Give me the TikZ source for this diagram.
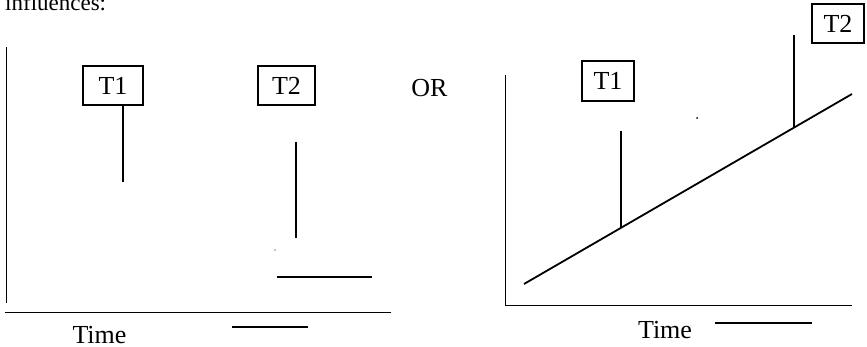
\documentclass[tikz,border=0pt]{standalone}
\usepackage{fontspec}
\setmainfont{Liberation Serif}
\begin{document}
\begin{tikzpicture}[x=1pt,y=-1pt,
  every node/.style={font=\fontsize{26}{30}\selectfont, inner sep=0pt},
  tbox/.style={draw, line width=1.1pt, minimum height=39pt},
  axis/.style={line width=0.9pt},
  stem/.style={line width=1.6pt},
  trend/.style={line width=1.8pt},
  mark line/.style={line width=1.4pt},
  speck/.style={fill=black, draw=none}]
\useasboundingbox (0,0) rectangle (867,347);
\clip (0,0) rectangle (867,347);

% heading, partly cut off by the top edge
\node[anchor=base west, font=\fontsize{23}{27}\selectfont] (head) at (5,10.5) {influences:};

% ---------- left panel ----------
\coordinate (LaxTop) at (6,47);
\coordinate (LaxBot) at (6,303);
\coordinate (LhA) at (5,312);
\coordinate (LhB) at (391,312);
\draw[axis] (LaxTop) -- (LaxBot);
\draw[axis] (LhA) -- (LhB);

\node[tbox, minimum width=60pt] (LT1) at (113,85.5) {T1};
\node[tbox, minimum width=57pt] (LT2) at (286.5,85.5) {T2};

\coordinate (L1bot) at (123,182);
\draw[stem] (LT1.south -| L1bot) -- (L1bot);

\coordinate (L2top) at (296,142);
\coordinate (L2bot) at (296,238);
\draw[stem] (L2top) -- (L2bot);

\coordinate (LbarA) at (277,277);
\coordinate (LbarB) at (372,277);
\draw[mark line] (LbarA) -- (LbarB);

\fill[speck] (275,250) circle (0.7);

\node[anchor=base] (LTime) at (99.5,343) {Time};
\coordinate (LtA) at (232,327);
\coordinate (LtB) at (308,327);
\draw[mark line] (LtA) -- (LtB);

% ---------- separator word ----------
\node[anchor=base] (or) at (429.5,97) {OR};

% ---------- right panel ----------
\coordinate (RaxTop) at (505,75);
\coordinate (RaxBot) at (505,305);
\coordinate (RhB) at (852,305);
\draw[axis] (RaxTop) -- (RaxBot) -- (RhB);

\coordinate (D0) at (524,284);
\coordinate (D1) at (852,94);
\draw[trend] (D0) -- (D1);

\node[tbox, minimum width=52pt, minimum height=40pt] (RT1) at (608,81) {T1};
\node[tbox, minimum width=52pt] (RT2) at (838,23.5) {T2};

\coordinate (R1top) at (621,131);
\coordinate (R1bot) at (621,227.8);
\draw[stem] (R1top) -- (R1bot);

\coordinate (R2top) at (794,35);
\coordinate (R2bot) at (794,128.2);
\draw[stem] (R2top) -- (R2bot);

\fill[speck] (697,118) circle (1);

\node[anchor=base] (RTime) at (665,338) {Time};
\coordinate (RtA) at (715,323);
\coordinate (RtB) at (812,323);
\draw[mark line] (RtA) -- (RtB);
\end{tikzpicture}
\end{document}
